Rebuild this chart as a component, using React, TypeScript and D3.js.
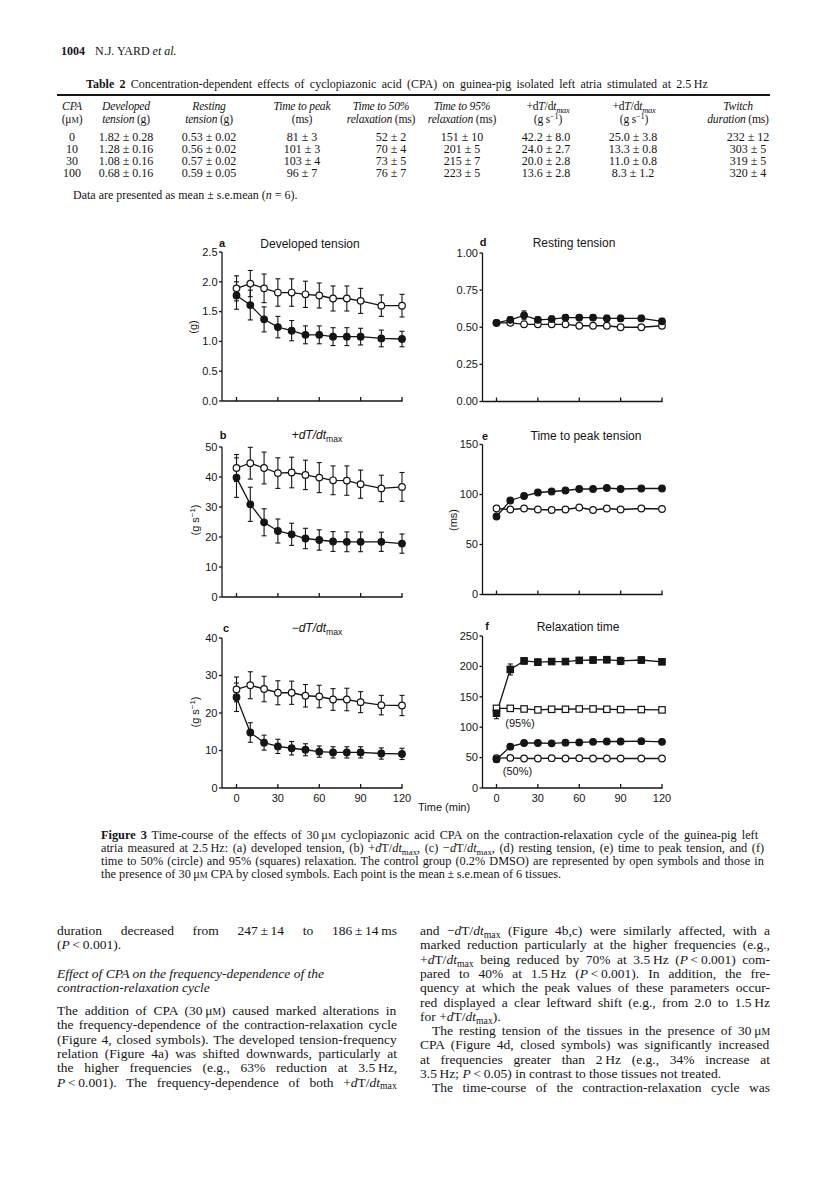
import React from "react";
import * as d3 from "d3";

const SERIF = "'Liberation Serif','Times New Roman',serif";
const SANS = "'Liberation Sans',Arial,Helvetica,sans-serif";
const INK = "#151515";
const TS = "\u2009"; // thin space (not stretched by justification)

// ---------------- Figure 3 data ----------------
const times = [0, 10, 20, 30, 40, 50, 60, 70, 80, 90, 105, 120];
const xTickValues = [0, 30, 60, 90, 120];

// (a) developed tension (g)
const devCtrl = [1.89, 1.97, 1.89, 1.82, 1.82, 1.79, 1.77, 1.72, 1.72, 1.68, 1.6, 1.6];
const devCtrlSe = [0.21, 0.22, 0.24, 0.23, 0.23, 0.22, 0.21, 0.21, 0.21, 0.21, 0.18, 0.19];
const devCpa = [1.77, 1.61, 1.37, 1.24, 1.18, 1.11, 1.11, 1.08, 1.08, 1.08, 1.05, 1.04];
const devCpaSe = [0.23, 0.25, 0.21, 0.18, 0.17, 0.15, 0.15, 0.15, 0.15, 0.14, 0.14, 0.13];
const devTicks = [0, 0.5, 1, 1.5, 2, 2.5];

// (b) +dT/dt max (g s-1)
const posCtrl = [43.0, 44.6, 43.0, 41.3, 41.5, 40.7, 39.8, 38.9, 38.8, 37.6, 36.2, 36.7];
const posCtrlSe = [4.5, 5.3, 5.3, 5.1, 5.1, 4.9, 5.0, 4.8, 4.9, 4.7, 4.4, 4.8];
const posCpa = [39.8, 30.9, 24.9, 22.0, 20.9, 19.5, 19.0, 18.5, 18.4, 18.4, 18.4, 17.8];
const posCpaSe = [6.6, 5.7, 4.5, 4.0, 3.7, 3.4, 3.4, 3.3, 3.3, 3.3, 3.2, 3.2];
const posTicks = [0, 10, 20, 30, 40, 50];

// (c) -dT/dt max (g s-1)
const negCtrl = [26.3, 27.4, 26.4, 25.4, 25.4, 24.6, 24.4, 23.6, 23.6, 22.9, 22.1, 22.0];
const negCtrlSe = [3.3, 3.6, 3.4, 3.2, 3.1, 3.0, 3.0, 2.9, 3.0, 2.8, 2.6, 2.7];
const negCpa = [24.2, 14.8, 12.1, 11.1, 10.6, 10.2, 9.7, 9.5, 9.5, 9.5, 9.2, 9.1];
const negCpaSe = [3.8, 2.6, 2.0, 1.9, 1.8, 1.6, 1.5, 1.5, 1.5, 1.5, 1.5, 1.5];
const negTicks = [0, 10, 20, 30, 40];

// (d) resting tension (g)
const restCtrl = [0.53, 0.53, 0.52, 0.52, 0.52, 0.52, 0.51, 0.51, 0.51, 0.5, 0.5, 0.51];
const restCtrlSe = [0.01, 0.01, 0.01, 0.01, 0.01, 0.01, 0.01, 0.01, 0.01, 0.01, 0.01, 0.01];
const restCpa = [0.53, 0.55, 0.58, 0.55, 0.555, 0.565, 0.565, 0.565, 0.56, 0.56, 0.56, 0.54];
const restCpaSe = [0.01, 0.02, 0.03, 0.02, 0.02, 0.02, 0.02, 0.02, 0.02, 0.02, 0.02, 0.02];
const restTicks = [0, 0.25, 0.5, 0.75, 1];

// (e) time to peak tension (ms)
const ttpCtrl = [86, 85, 86, 85, 84.5, 85, 87, 84.5, 86, 85, 86, 85.5];
const ttpCtrlSe = [1, 1, 1, 1, 1, 1, 1, 1, 1, 1, 1, 1];
const ttpCpa = [78, 94, 98.5, 102, 103, 104, 105.5, 105.5, 106.5, 105.5, 106, 106];
const ttpCpaSe = [1, 1, 1, 1, 1, 1, 1, 1, 1, 1, 1, 1];
const ttpTicks = [0, 50, 100, 150];

// (f) relaxation time (ms)
const r95Ctrl = [131, 131, 130, 128.5, 129.5, 129.5, 130, 130, 129.5, 129, 129, 128.5];
const r95CtrlSe = [1, 1, 1, 1, 1, 1, 1, 1, 1, 1, 1, 1];
const r95Cpa = [123, 195, 209, 207, 208, 208, 210, 210.5, 211, 209, 210.5, 207.5];
const r95CpaSe = [9, 9, 5, 5, 4, 4, 4, 5, 5, 6, 5, 4];
const r50Ctrl = [49, 49.5, 48.5, 48.5, 49, 48.5, 49, 48.5, 48.5, 48.5, 48.5, 48.5];
const r50CtrlSe = [1, 1, 1, 1, 1, 1, 1, 1, 1, 1, 1, 1];
const r50Cpa = [47, 68, 74, 74, 73.5, 74.5, 75, 76, 76.5, 76.5, 77, 76];
const r50CpaSe = [2, 3, 2, 2, 2, 2, 2, 2, 2, 2, 2, 2];
const relTicks = [0, 50, 100, 150, 200, 250];

// ---------------- Table 2 data ----------------
const tabCpa = ["0", "10", "30", "100"];
const tabDeveloped = ["1.82 ± 0.28", "1.28 ± 0.16", "1.08 ± 0.16", "0.68 ± 0.16"];
const tabResting = ["0.53 ± 0.02", "0.56 ± 0.02", "0.57 ± 0.02", "0.59 ± 0.05"];
const tabPeak = ["81 ± 3", "101 ± 3", "103 ± 4", "96 ± 7"];
const tabR50 = ["52 ± 2", "70 ± 4", "73 ± 5", "76 ± 7"];
const tabR95 = ["151 ± 10", "201 ± 5", "215 ± 7", "223 ± 5"];
const tabPos = ["42.2 ± 8.0", "24.0 ± 2.7", "20.0 ± 2.8", "13.6 ± 2.8"];
const tabNeg = ["25.0 ± 3.8", "13.3 ± 0.8", "11.0 ± 0.8", "8.3 ± 1.2"];
const tabTwitch = ["232 ± 12", "303 ± 5", "319 ± 5", "320 ± 4"];

// ---------------- rich text helpers ----------------
type SegObj = { t: string; i?: boolean; b?: boolean; sub?: boolean; sup?: boolean; sc?: boolean };
type Seg = string | SegObj;
const norm = (s: Seg): SegObj => (typeof s === "string" ? { t: s } : s);

let ctx: CanvasRenderingContext2D | null = null;
function measure(segs: Seg[], size: number, family: string, italicAll = false): number {
  if (typeof document === "undefined") return 0;
  if (!ctx) ctx = document.createElement("canvas").getContext("2d");
  if (!ctx) return 0;
  let w = 0;
  for (const s0 of segs) {
    const s = norm(s0);
    const fs = s.sub || s.sup || s.sc ? size * 0.72 : size;
    ctx.font = `${s.i || italicAll ? "italic " : ""}${s.b ? "bold " : ""}${fs}px ${family}`;
    w += ctx.measureText(s.t).width;
  }
  return w;
}

function Rich(props: {
  segs: Seg[];
  x: number;
  y: number;
  size: number;
  family?: string;
  anchor?: "start" | "middle" | "end";
  width?: number;
  italic?: boolean;
  bold?: boolean;
  transform?: string;
  letterSpacing?: number;
}) {
  const { segs, x, y, size, family = SERIF, anchor = "start", width, italic, bold, transform, letterSpacing } = props;
  let shift = 0;
  const kids = segs.map((s0, k) => {
    const s = norm(s0);
    const target = s.sub ? size * 0.22 : s.sup ? -size * 0.38 : 0;
    const dy = target - shift;
    shift = target;
    return (
      <tspan
        key={k}
        dy={dy !== 0 ? dy : undefined}
        fontStyle={s.i ? "italic" : undefined}
        fontWeight={s.b ? "bold" : undefined}
        fontSize={s.sub || s.sup || s.sc ? size * 0.72 : undefined}
      >
        {s.t}
      </tspan>
    );
  });
  let wordSpacing: number | undefined;
  if (width) {
    const nat = measure(segs, size, family, italic);
    const spaces = segs.reduce((a, s) => a + (norm(s).t.match(/ /g) || []).length, 0);
    if (spaces > 0) wordSpacing = (width - nat) / spaces;
  }
  const style: React.CSSProperties = {};
  if (wordSpacing !== undefined) style.wordSpacing = `${wordSpacing}px`;
  if (letterSpacing !== undefined) style.letterSpacing = `${letterSpacing}px`;
  return (
    <text
      x={x}
      y={y}
      fontSize={size}
      fontFamily={family}
      textAnchor={anchor}
      fontStyle={italic ? "italic" : undefined}
      fontWeight={bold ? "bold" : undefined}
      fill={INK}
      transform={transform}
      style={style}
    >
      {kids}
    </text>
  );
}

// ---------------- panels ----------------
type Series = { v: number[]; se: number[]; filled: boolean; shape: "circle" | "square" };
type PanelCfg = {
  axisX: number;
  x0: number;
  x120: number;
  yTop: number;
  yBot: number;
  ymax: number;
  ticks: number[];
  fmt: string;
  series: Series[];
  xLabels?: boolean;
};

function Panel({ cfg }: { cfg: PanelCfg }) {
  const { axisX, x0, x120, yTop, yBot, ymax, ticks, fmt, series, xLabels } = cfg;
  const x = d3.scaleLinear().domain([0, 120]).range([x0, x120]);
  const y = d3.scaleLinear().domain([0, ymax]).range([yBot, yTop]);
  const f = d3.format(fmt);
  const line = d3
    .line<number>()
    .x((_, i) => x(times[i]))
    .y((d) => y(d));
  const cap = 2.5;
  const r = 3.3;
  const ordered = [...series.filter((s) => !s.filled), ...series.filter((s) => s.filled)];
  return (
    <g>
      {series.map((s, si) => (
        <g key={"e" + si} stroke={INK} strokeWidth={1.1} fill="none">
          {s.v.map((v, i) => {
            const cx = x(times[i]);
            const y1 = y(v - s.se[i]);
            const y2 = y(v + s.se[i]);
            return (
              <g key={i}>
                <line x1={cx} x2={cx} y1={y1} y2={y2} />
                <line x1={cx - cap} x2={cx + cap} y1={y1} y2={y1} />
                <line x1={cx - cap} x2={cx + cap} y1={y2} y2={y2} />
              </g>
            );
          })}
          <path d={line(s.v) || ""} strokeWidth={1.3} />
        </g>
      ))}
      {ordered.map((s, si) => (
        <g key={"m" + si} stroke={INK} strokeWidth={1.2} fill={s.filled ? INK : "#fff"}>
          {s.v.map((v, i) =>
            s.shape === "circle" ? (
              <circle key={i} cx={x(times[i])} cy={y(v)} r={r} />
            ) : (
              <rect key={i} x={x(times[i]) - 3.2} y={y(v) - 3.2} width={6.4} height={6.4} />
            )
          )}
        </g>
      ))}
      <g stroke={INK} strokeWidth={1.3}>
        <line x1={axisX} x2={axisX} y1={yBot} y2={yTop} />
        <line x1={axisX} x2={x(120) + 0.6} y1={yBot} y2={yBot} />
        {ticks.map((t) => (
          <line key={t} x1={axisX - 3} x2={axisX} y1={y(t)} y2={y(t)} />
        ))}
        {xTickValues.map((t) => (
          <line key={t} x1={x(t)} x2={x(t)} y1={yBot} y2={yBot - 4} />
        ))}
      </g>
      <g fontFamily={SANS} fontSize={11} fill={INK}>
        {ticks.map((t) => (
          <text key={t} x={axisX - 4.5} y={y(t) + 3.8} textAnchor="end">
            {f(t)}
          </text>
        ))}
        {xLabels &&
          xTickValues.map((t) => (
            <text key={t} x={x(t)} y={yBot + 13.5} textAnchor="middle">
              {t}
            </text>
          ))}
      </g>
    </g>
  );
}

const LEFT = { axisX: 222, x0: 236.5, x120: 402 };
const RIGHT = { axisX: 482.5, x0: 496.5, x120: 662 };

const panels: PanelCfg[] = [
  {
    ...LEFT, yTop: 252, yBot: 401, ymax: 2.5, ticks: devTicks, fmt: ".1f",
    series: [
      { v: devCtrl, se: devCtrlSe, filled: false, shape: "circle" },
      { v: devCpa, se: devCpaSe, filled: true, shape: "circle" },
    ],
  },
  {
    ...LEFT, yTop: 447, yBot: 597, ymax: 50, ticks: posTicks, fmt: "d",
    series: [
      { v: posCtrl, se: posCtrlSe, filled: false, shape: "circle" },
      { v: posCpa, se: posCpaSe, filled: true, shape: "circle" },
    ],
  },
  {
    ...LEFT, yTop: 638, yBot: 788, ymax: 40, ticks: negTicks, fmt: "d", xLabels: true,
    series: [
      { v: negCtrl, se: negCtrlSe, filled: false, shape: "circle" },
      { v: negCpa, se: negCpaSe, filled: true, shape: "circle" },
    ],
  },
  {
    ...RIGHT, yTop: 253, yBot: 401.5, ymax: 1, ticks: restTicks, fmt: ".2f",
    series: [
      { v: restCtrl, se: restCtrlSe, filled: false, shape: "circle" },
      { v: restCpa, se: restCpaSe, filled: true, shape: "circle" },
    ],
  },
  {
    ...RIGHT, yTop: 444.5, yBot: 594.5, ymax: 150, ticks: ttpTicks, fmt: "d",
    series: [
      { v: ttpCtrl, se: ttpCtrlSe, filled: false, shape: "circle" },
      { v: ttpCpa, se: ttpCpaSe, filled: true, shape: "circle" },
    ],
  },
  {
    ...RIGHT, yTop: 636, yBot: 788, ymax: 250, ticks: relTicks, fmt: "d", xLabels: true,
    series: [
      { v: r95Ctrl, se: r95CtrlSe, filled: false, shape: "square" },
      { v: r95Cpa, se: r95CpaSe, filled: true, shape: "square" },
      { v: r50Ctrl, se: r50CtrlSe, filled: false, shape: "circle" },
      { v: r50Cpa, se: r50CpaSe, filled: true, shape: "circle" },
    ],
  },
];

const dTdt = (sign: string): Seg[] => [sign, { t: "dT/dt", i: true }, { t: "max", sub: true }];
const dTdtBody = (sign: string): Seg[] => [sign, { t: "d", i: true }, "T/", { t: "dt", i: true }, { t: "max", sub: true }];

// ---------------- page text ----------------
const tableCols = [72, 126, 209, 302, 391, 462, 546, 633, 748];
const tableHeadCols = [72, 126, 209, 302, 381, 462, 548, 634, 738];
const tableColumns = [tabCpa, tabDeveloped, tabResting, tabPeak, tabR50, tabR95, tabPos, tabNeg, tabTwitch];
const headRow1: Seg[][] = [
  [{ t: "CPA", i: true }],
  [{ t: "Developed", i: true }],
  [{ t: "Resting", i: true }],
  [{ t: "Time to peak", i: true }],
  [{ t: "Time to 50%", i: true }],
  [{ t: "Time to 95%", i: true }],
  ["+d", { t: "T", i: true }, "/d", { t: "t", i: true }, { t: "max", sub: true, i: true }],
  ["+d", { t: "T", i: true }, "/d", { t: "t", i: true }, { t: "max", sub: true, i: true }],
  [{ t: "Twitch", i: true }],
];
const headRow2: Seg[][] = [
  ["(μ", { t: "M", sc: true }, ")"],
  [{ t: "tension", i: true }, " (g)"],
  [{ t: "tension", i: true }, " (g)"],
  ["(ms)"],
  [{ t: "relaxation", i: true }, " (ms)"],
  [{ t: "relaxation", i: true }, " (ms)"],
  ["(g s", { t: "−1", sup: true }, ")"],
  ["(g s", { t: "−1", sup: true }, ")"],
  [{ t: "duration", i: true }, " (ms)"],
];

type Ln = { segs: Seg[]; x: number; y: number; w?: number; italic?: boolean };
const mu: Seg[] = ["μ", { t: "M", sc: true }];
const P: Seg = { t: "P", i: true };
const lt = (v: string): string => `${TS}<${TS}${v}`;

const captionLines: Ln[] = [
  { x: 101, y: 839, w: 663, segs: [{ t: "Figure 3", b: true }, "  Time-course of the effects of 30" + TS, ...mu, " cyclopiazonic acid CPA on the contraction-relaxation cycle of the guinea-pig left"] },
  { x: 101, y: 852, w: 663, segs: ["atria measured at 2.5" + TS + "Hz: (a) developed tension, (b) ", ...dTdtBody("+"), ", (c) ", ...dTdtBody("−"), ", (d) resting tension, (e) time to peak tension, and (f)"] },
  { x: 101, y: 865, w: 663, segs: ["time to 50% (circle) and 95% (squares) relaxation. The control group (0.2% DMSO) are represented by open symbols and those in"] },
  { x: 101, y: 878, segs: ["the presence of 30" + TS, ...mu, " CPA by closed symbols. Each point is the mean" + TS + "±" + TS + "s.e.mean of 6 tissues."] },
];

const LH = 14.3;
const LX = 57, LW = 340, RX = 420, RW = 350;
const leftLines: Ln[] = [
  { x: LX, y: 935, w: LW, segs: [`duration decreased from 247${TS}±${TS}14 to 186${TS}±${TS}14${TS}ms`] },
  { x: LX, y: 935 + LH, segs: ["(", P, lt("0.001).")] },
  { x: LX, y: 978, italic: true, segs: ["Effect of CPA on the frequency-dependence of the"] },
  { x: LX, y: 978 + LH, italic: true, segs: ["contraction-relaxation cycle"] },
  { x: LX, y: 1015, w: LW, segs: ["The addition of CPA (30" + TS, ...mu, ") caused marked alterations in"] },
  { x: LX, y: 1015 + LH, w: LW, segs: ["the frequency-dependence of the contraction-relaxation cycle"] },
  { x: LX, y: 1015 + 2 * LH, w: LW, segs: ["(Figure 4, closed symbols). The developed tension-frequency"] },
  { x: LX, y: 1015 + 3 * LH, w: LW, segs: ["relation (Figure 4a) was shifted downwards, particularly at"] },
  { x: LX, y: 1015 + 4 * LH, w: LW, segs: ["the higher frequencies (e.g., 63% reduction at 3.5" + TS + "Hz,"] },
  { x: LX, y: 1015 + 5 * LH, w: LW, segs: [P, lt("0.001). The frequency-dependence of both "), ...dTdtBody("+")] },
];
const rightLines: Ln[] = [
  { x: RX, y: 935, w: RW, segs: ["and ", ...dTdtBody("−"), " (Figure 4b,c) were similarly affected, with a"] },
  { x: RX, y: 935 + LH, w: RW, segs: ["marked reduction particularly at the higher frequencies (e.g.,"] },
  { x: RX, y: 935 + 2 * LH, w: RW, segs: [...dTdtBody("+"), " being reduced by 70% at 3.5" + TS + "Hz (", P, lt("0.001) com-")] },
  { x: RX, y: 935 + 3 * LH, w: RW, segs: ["pared to 40% at 1.5" + TS + "Hz (", P, lt("0.001). In addition, the fre-")] },
  { x: RX, y: 935 + 4 * LH, w: RW, segs: ["quency at which the peak values of these parameters occur-"] },
  { x: RX, y: 935 + 5 * LH, w: RW, segs: ["red displayed a clear leftward shift (e.g., from 2.0 to 1.5" + TS + "Hz"] },
  { x: RX, y: 935 + 6 * LH, segs: ["for ", ...dTdtBody("+"), ")."] },
  { x: RX + 12, y: 935 + 7 * LH, w: RW - 12, segs: ["The resting tension of the tissues in the presence of 30" + TS, ...mu] },
  { x: RX, y: 935 + 8 * LH, w: RW, segs: ["CPA (Figure 4d, closed symbols) was significantly increased"] },
  { x: RX, y: 935 + 9 * LH, w: RW, segs: ["at frequencies greater than 2" + TS + "Hz (e.g., 34% increase at"] },
  { x: RX, y: 935 + 10 * LH, segs: ["3.5" + TS + "Hz; ", P, lt("0.05) in contrast to those tissues not treated.")] },
  { x: RX + 12, y: 935 + 11 * LH, w: RW - 12, segs: ["The time-course of the contraction-relaxation cycle was"] },
];

export default function App() {
  const W = 816;
  const H = 1187;
  const titles = [
    { letter: "a", lx: 222, ly: 247, tx: 310, ty: 248, segs: ["Developed tension"] as Seg[] },
    { letter: "b", lx: 223, ly: 439, tx: 317, ty: 439, segs: dTdt("+") },
    { letter: "c", lx: 226, ly: 632, tx: 317, ty: 632, segs: dTdt("−") },
    { letter: "d", lx: 483, ly: 246, tx: 574, ty: 247, segs: ["Resting tension"] as Seg[] },
    { letter: "e", lx: 485, ly: 440, tx: 586, ty: 440, segs: ["Time to peak tension"] as Seg[] },
    { letter: "f", lx: 487, ly: 630, tx: 578, ty: 631, segs: ["Relaxation time"] as Seg[] },
  ];
  const ylabels = [
    { x: 193, y: 327, segs: ["(g)"] as Seg[] },
    { x: 195, y: 520, segs: ["(g s", { t: "−1", sup: true }, ")"] as Seg[] },
    { x: 195, y: 712, segs: ["(g s", { t: "−1", sup: true }, ")"] as Seg[] },
    { x: 453, y: 520, segs: ["(ms)"] as Seg[] },
  ];
  const rowY = [141, 153, 165, 177];
  return (
    <div style={{ position: "absolute", left: 0, top: 0, width: W, height: H, background: "#fff" }}>
      <svg width={W} height={H} viewBox={`0 0 ${W} ${H}`} style={{ display: "block" }}>
        <rect width={W} height={H} fill="#fff" />
        {/* running head */}
        <Rich x={61} y={55} size={12} segs={[{ t: "1004", b: true }]} />
        <Rich x={95} y={55} size={12} segs={["N.J. YARD ", { t: "et al.", i: true }]} />

        {/* table */}
        <Rich
          x={86}
          y={88}
          size={12}
          width={627}
          segs={[{ t: "Table 2", b: true }, "  Concentration-dependent effects of cyclopiazonic acid (CPA) on guinea-pig isolated left atria stimulated at 2.5" + TS + "Hz"]}
        />
        <line x1={57} x2={770} y1={95} y2={95} stroke={INK} strokeWidth={1.8} />
        {headRow1.map((s, i) => (
          <Rich key={"h1" + i} x={tableHeadCols[i]} y={110} size={11.6} letterSpacing={-0.2} anchor="middle" segs={s} />
        ))}
        {headRow2.map((s, i) => (
          <Rich key={"h2" + i} x={tableHeadCols[i]} y={123} size={11.6} letterSpacing={-0.2} anchor="middle" segs={s} />
        ))}
        {tableColumns.map((col, ci) =>
          col.map((v, ri) => (
            <text key={ci + "-" + ri} x={tableCols[ci]} y={rowY[ri]} fontSize={12} fontFamily={SERIF} textAnchor="middle" fill={INK}>
              {v}
            </text>
          ))
        )}
        <Rich x={73} y={199} size={12} segs={["Data are presented as mean ± s.e.mean (", { t: "n", i: true }, " = 6)."]} />

        {/* figure panels */}
        {panels.map((p, i) => (
          <Panel key={i} cfg={p} />
        ))}
        {titles.map((t) => (
          <g key={t.letter}>
            <text x={t.lx} y={t.ly} fontFamily={SANS} fontWeight="bold" fontSize={11} textAnchor="middle" fill={INK}>
              {t.letter}
            </text>
            <Rich x={t.tx} y={t.ty} size={12} family={SANS} anchor="middle" segs={t.segs} />
          </g>
        ))}
        {ylabels.map((l, i) => (
          <Rich key={i} x={l.x} y={l.y} size={11} family={SANS} anchor="middle" segs={l.segs} transform={`rotate(-90 ${l.x} ${l.y}) translate(0 4)`} />
        ))}
        <text x={520} y={727} fontFamily={SANS} fontSize={11} textAnchor="middle" fill={INK}>(95%)</text>
        <text x={517.5} y={775} fontFamily={SANS} fontSize={11} textAnchor="middle" fill={INK}>(50%)</text>
        <text x={418} y={811} fontFamily={SANS} fontSize={11} fill={INK}>Time (min)</text>

        {/* caption */}
        {captionLines.map((l, i) => (
          <Rich key={"c" + i} x={l.x} y={l.y} size={12.3} width={l.w} segs={l.segs} />
        ))}
        {/* body text */}
        {[...leftLines, ...rightLines].map((l, i) => (
          <Rich key={"b" + i} x={l.x} y={l.y} size={13.5} width={l.w} italic={l.italic} segs={l.segs} />
        ))}
      </svg>
    </div>
  );
}
